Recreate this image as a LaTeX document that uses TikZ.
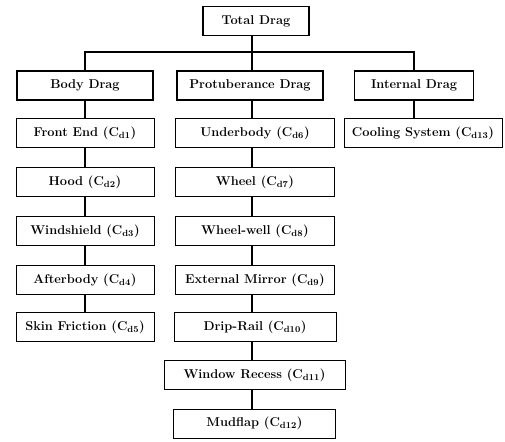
\documentclass[tikz,border=0pt]{standalone}
\usetikzlibrary{positioning,calc}
\newcommand{\cdrag}[1]{(C\textsubscript{d#1})}
\tikzset{
  head/.style={draw, line width=1.6pt, minimum height=29pt, inner sep=2pt, font=\fontsize{12.8}{15}\selectfont\bfseries},
  item/.style={draw, line width=1pt, minimum height=29pt, inner sep=2pt, font=\fontsize{12.8}{15}\selectfont\bfseries},
  link/.style={line width=1.5pt}
}
\begin{document}
\begin{tikzpicture}[x=1pt, y=-1pt]
    \useasboundingbox (0,0) rectangle (505,441);
    % top of the tree
    \node[head, minimum width=106pt] (total) at (256,21) {Total Drag};
    \node[head, minimum width=136pt] (body) at (85,85.5) {Body Drag};
    \node[head, minimum width=146pt] (prot) at (250,85.5) {Protuberance Drag};
    \node[head, minimum width=119pt] (internal) at (414,85.5) {Internal Drag};
    \coordinate (bar) at (0,52);

    % body column
    \node[item, minimum width=138pt] (front) at (85,133) {Front End \cdrag{1}};
    \node[item, minimum width=138pt] (hood) at (85,182) {Hood \cdrag{2}};
    \node[item, minimum width=138pt] (wind) at (85,231) {Windshield \cdrag{3}};
    \node[item, minimum width=138pt] (after) at (85,280) {Afterbody \cdrag{4}};
    \node[item, minimum width=138pt] (skin) at (85,327) {Skin Friction \cdrag{5}};

    % protuberance column
    \node[item, minimum width=159pt] (under) at (255,133) {Underbody \cdrag{6}};
    \node[item, minimum width=159pt] (wheel) at (255,182) {Wheel \cdrag{7}};
    \node[item, minimum width=159pt] (well) at (255,231) {Wheel-well \cdrag{8}};
    \node[item, minimum width=159pt] (mirror) at (255,280) {External Mirror \cdrag{9}};
    \node[item, minimum width=162pt] (drip) at (255,327) {Drip-Rail \cdrag{10}};
    \node[item, minimum width=181pt] (recess) at (254.5,375) {Window Recess \cdrag{11}};
    \node[item, minimum width=162pt] (mud) at (254.5,423.5) {Mudflap \cdrag{12}};

    % internal column
    \node[item, minimum width=158pt] (cool) at (423,133) {Cooling System \cdrag{13}};

    % connectors
    \draw[link] (total.south -| 252,0) -- (bar -| 252,0);
    \draw[link] (body.north) |- (bar -| internal.north) -- (internal.north);
    \draw[link] (bar -| 252,0) -- (prot.north -| 252,0);
    \draw[link] (body) -- (front);
    \draw[link] (front) -- (hood);
    \draw[link] (hood) -- (wind);
    \draw[link] (wind) -- (after);
    \draw[link] (after) -- (skin);
    \draw[link] (prot.south -| 252,0) -- (under.north -| 252,0);
    \draw[link] (under.south -| 252,0) -- (wheel.north -| 252,0);
    \draw[link] (wheel.south -| 252,0) -- (well.north -| 252,0);
    \draw[link] (well.south -| 252,0) -- (mirror.north -| 252,0);
    \draw[link] (mirror.south -| 252,0) -- (drip.north -| 252,0);
    \draw[link] (drip.south -| 252,0) -- (recess.north -| 252,0);
    \draw[link] (recess.south -| 252,0) -- (mud.north -| 252,0);
    \draw[link] (internal.south) -- (internal.south |- cool.north);
\end{tikzpicture}
\end{document}
